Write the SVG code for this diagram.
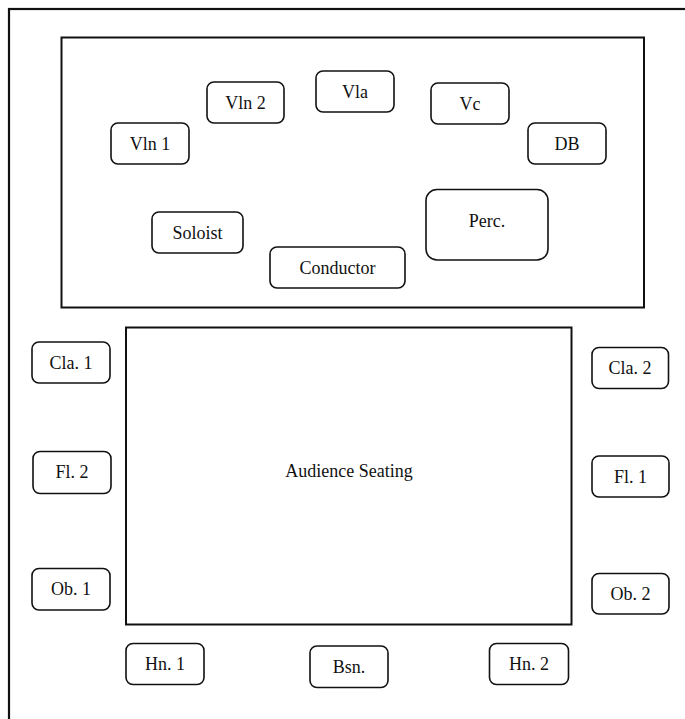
<svg xmlns="http://www.w3.org/2000/svg" width="685" height="719" viewBox="0 0 685 719">
<style>
.frame{fill:none;stroke:#111;stroke-width:2.2}
.area{fill:none;stroke:#111;stroke-width:2}
.node rect{fill:#fff;stroke:#111;stroke-width:1.6}
text{font-family:"Liberation Serif","Times New Roman",serif;font-size:18px;fill:#111;text-anchor:middle}
</style>
<rect width="685" height="719" fill="#fff"/>
<rect class="frame" x="9" y="9" width="700" height="730"/>
<g id="stage"><rect class="area" x="61.5" y="37.5" width="582.5" height="270"/></g>
<g id="audience"><rect class="area" x="126" y="327.5" width="445.5" height="297"/><text x="349" y="477">Audience Seating</text></g>
<g id="vln1" class="node"><rect x="111" y="123" width="78" height="41" rx="7"/><text x="150" y="149.5">Vln 1</text></g>
<g id="vln2" class="node"><rect x="207" y="82" width="77" height="41" rx="7"/><text x="245.5" y="108.5">Vln 2</text></g>
<g id="vla" class="node"><rect x="316" y="71" width="78" height="41" rx="7"/><text x="355" y="97.5">Vla</text></g>
<g id="vc" class="node"><rect x="431" y="83" width="78" height="41" rx="7"/><text x="470" y="109.5">Vc</text></g>
<g id="db" class="node"><rect x="528" y="123" width="78" height="41" rx="7"/><text x="567" y="149.5">DB</text></g>
<g id="soloist" class="node"><rect x="152" y="212" width="91" height="41" rx="7"/><text x="197.5" y="238.5">Soloist</text></g>
<g id="conductor" class="node"><rect x="270" y="247" width="135" height="41" rx="7"/><text x="337.5" y="273.5">Conductor</text></g>
<g id="perc" class="node"><rect x="426" y="189.5" width="122" height="70.5" rx="11"/><text x="487" y="226.5">Perc.</text></g>
<g id="cla1" class="node"><rect x="32" y="342" width="78" height="41" rx="7"/><text x="71" y="368.5">Cla. 1</text></g>
<g id="fl2" class="node"><rect x="33" y="451.5" width="78" height="42" rx="7"/><text x="72" y="478">Fl. 2</text></g>
<g id="ob1" class="node"><rect x="32" y="568.5" width="78" height="41.5" rx="7"/><text x="71" y="595">Ob. 1</text></g>
<g id="cla2" class="node"><rect x="592" y="347.5" width="76.5" height="41" rx="7"/><text x="630" y="373.5">Cla. 2</text></g>
<g id="fl1" class="node"><rect x="592" y="456" width="77" height="41" rx="7"/><text x="630.5" y="482.5">Fl. 1</text></g>
<g id="ob2" class="node"><rect x="592" y="573.5" width="77" height="40.5" rx="7"/><text x="630.5" y="599.5">Ob. 2</text></g>
<g id="hn1" class="node"><rect x="126" y="643.5" width="78" height="41" rx="7"/><text x="165" y="669.5">Hn. 1</text></g>
<g id="bsn" class="node"><rect x="310" y="646" width="78" height="41.5" rx="7"/><text x="349" y="673">Bsn.</text></g>
<g id="hn2" class="node"><rect x="489.5" y="643.5" width="79" height="41" rx="7"/><text x="529" y="669.5">Hn. 2</text></g>
<g id="connectors"></g>
</svg>
